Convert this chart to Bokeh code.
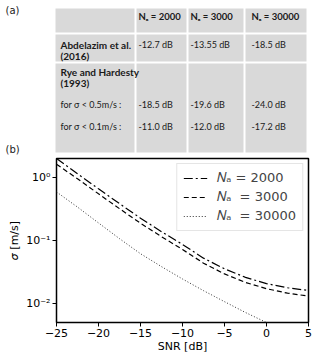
from bokeh.plotting import figure
from bokeh.models import (Range1d, FixedTicker, CustomJSTickFormatter, Legend,
                          LegendItem, ColumnDataSource)
from bokeh.layouts import column
from bokeh.embed import file_html
from bokeh.resources import INLINE
from bokeh.core.properties import value

# ---------------- table (a) data ----------------
col_headers = ["", "Nₐ = 2000", "Nₐ = 3000", "Nₐ = 30000"]
row1_label = ["Abdelazim et al.", "(2016)"]
row1_vals = ["-12.7 dB", "-13.55 dB", "-18.5 dB"]
row2_label = ["Rye and Hardesty", "(1993)"]
row2_conditions = ["for σ < 0.5m/s :", "for σ < 0.1m/s :"]
row2_vals_05 = ["-18.5 dB", "-19.6 dB", "-24.0 dB"]
row2_vals_01 = ["-11.0 dB", "-12.0 dB", "-17.2 dB"]

# ---------------- plot (b) data ----------------
snr = [-25, -22.5, -20, -17.5, -15, -12.5, -10, -7.5, -5, -2.5, 0, 2.5, 5]
sigma_2000 = [2.0, 1.15, 0.66, 0.385, 0.226, 0.138, 0.0865, 0.0525, 0.0355, 0.026, 0.0207, 0.0178, 0.0161]
sigma_3000 = [1.62, 0.955, 0.55, 0.32, 0.188, 0.115, 0.072, 0.0437, 0.0295, 0.0216, 0.0172, 0.0146, 0.0131]
sigma_30000 = [0.59, 0.339, 0.19, 0.107, 0.0617, 0.0385, 0.0245, 0.016, 0.0107, 0.0072, 0.005, 0.0035, 0.0025]
legend_labels = ["𝑁ₐ = 2000", "𝑁ₐ  = 3000", "𝑁ₐ  = 30000"]
x_ticks = [-25, -20, -15, -10, -5, 0, 5]
y_ticks = [0.01, 0.1, 1]

# ================= table figure =================
TW, TH = 312, 156
t = figure(frame_width=TW, frame_height=TH, x_range=Range1d(0, TW), y_range=Range1d(TH, 0),
           toolbar_location=None, output_backend="svg", min_border=0, title=None,
           x_axis_type=None, y_axis_type=None, frame_align=False)
t.grid.visible = False
t.outline_line_color = None

col_edges = [54, 135, 187, 244, 307]
row_edges = [7, 33, 62, 153]
g = 1.0
lefts, rights, tops, bottoms = [], [], [], []
for r in range(3):
    for c in range(4):
        lefts.append(col_edges[c] + g)
        rights.append(col_edges[c + 1] - g)
        tops.append(row_edges[r] + g)
        bottoms.append(row_edges[r + 1] - g)
t.quad(left=lefts, right=rights, top=tops, bottom=bottoms,
       fill_color="#d9d9d9", line_color=None)

text_x = [138, 190, 251]
TF = value("Lato")
TC = "#1a1a1a"
t.text(x=text_x, y=[16, 16, 16], text=col_headers[1:], text_font=TF,
       text_font_size="9.5px", text_font_style="bold", text_baseline="middle",
       text_color=TC)
t.text(x=[60, 60, 60, 60], y=[44, 55, 71, 82],
       text=row1_label + row2_label, text_font=TF, text_font_size="10px",
       text_font_style="bold", text_baseline="middle", text_color=TC)
t.text(x=[60, 60], y=[104, 126], text=row2_conditions, text_font=TF,
       text_font_size="9px", text_baseline="middle", text_color=TC)
t.text(x=text_x, y=[44] * 3, text=row1_vals, text_font=TF, text_font_size="9px",
       text_baseline="middle", text_color=TC)
t.text(x=text_x, y=[104] * 3, text=row2_vals_05, text_font=TF, text_font_size="9px",
       text_baseline="middle", text_color=TC)
t.text(x=text_x, y=[126] * 3, text=row2_vals_01, text_font=TF, text_font_size="9px",
       text_baseline="middle", text_color=TC)
t.text(x=[5, 5], y=[10, 149], text=["(a)", "(b)"], text_font=value("DejaVu Sans"),
       text_font_size="10px", text_baseline="middle", text_color=TC)

# ================= plot figure =================
p = figure(frame_width=252, frame_height=164, x_range=Range1d(-25, 5), y_range=Range1d(0.005, 2.0),
           y_axis_type="log", toolbar_location=None, output_backend="svg", title=None,
           min_border_left=56, min_border_right=4, min_border_top=2, min_border_bottom=32,
           frame_align=False)
p.grid.visible = False
p.outline_line_color = "black"
p.outline_line_width = 1.5

src = ColumnDataSource(dict(snr=snr, s2000=sigma_2000, s3000=sigma_3000, s30000=sigma_30000))
r1 = p.line("snr", "s2000", source=src, line_color="black", line_width=1.2,
            line_dash="9 3 2 3")
r2 = p.line("snr", "s3000", source=src, line_color="black", line_width=1.2,
            line_dash="5 3")
r3 = p.line("snr", "s30000", source=src, line_color="#333333", line_width=1.0,
            line_dash="1 2")

legend = Legend(items=[LegendItem(label=legend_labels[0], renderers=[r1]),
                       LegendItem(label=legend_labels[1], renderers=[r2]),
                       LegendItem(label=legend_labels[2], renderers=[r3])],
                location="top_right")
legend.border_line_color = "#cccccc"
legend.border_line_width = 1
legend.background_fill_alpha = 0.8
legend.label_text_font = "DejaVu Sans"
legend.label_text_font_size = "13px"
legend.glyph_width = 24
legend.glyph_height = 16
legend.label_height = 16
legend.spacing = 3
legend.padding = 6
legend.margin = 5
legend.label_standoff = 10
p.add_layout(legend)

for ax in (p.xaxis[0], p.yaxis[0]):
    ax.axis_line_color = None
    ax.major_tick_line_color = "black"
    ax.major_tick_line_width = 1
    ax.major_tick_out = 4
    ax.major_tick_in = 0
    ax.minor_tick_line_color = None
    ax.major_label_text_font = "DejaVu Sans"
    ax.major_label_text_font_size = "11px"
    ax.major_label_text_color = "black"
    ax.axis_label_text_font = "DejaVu Sans"
    ax.axis_label_text_font_size = "11px"
    ax.axis_label_text_font_style = "normal"
    ax.axis_label_text_color = "black"
    ax.major_label_standoff = 2

p.xaxis.ticker = FixedTicker(ticks=x_ticks)
p.xaxis.formatter = CustomJSTickFormatter(code="return String(tick).replace('-', '\u2212');")
p.xaxis.axis_label = "SNR [dB]"
p.xaxis.axis_label_standoff = 0

p.yaxis.ticker = FixedTicker(ticks=y_ticks)
p.yaxis.formatter = CustomJSTickFormatter(code="""
const sup = {'-': '\u207B', '0': '\u2070', '1': '\u00B9', '2': '\u00B2', '3': '\u00B3',
             '4': '\u2074', '5': '\u2075', '6': '\u2076', '7': '\u2077', '8': '\u2078', '9': '\u2079'};
const e = Math.round(Math.log10(tick));
return '10' + String(e).split('').map(c => sup[c]).join('');
""")
p.yaxis.axis_label = "𝜎 [m/s]"
p.yaxis.axis_label_standoff = 2

layout = column(t, p, spacing=0)
open("out.html", "w").write(file_html(layout, INLINE))
